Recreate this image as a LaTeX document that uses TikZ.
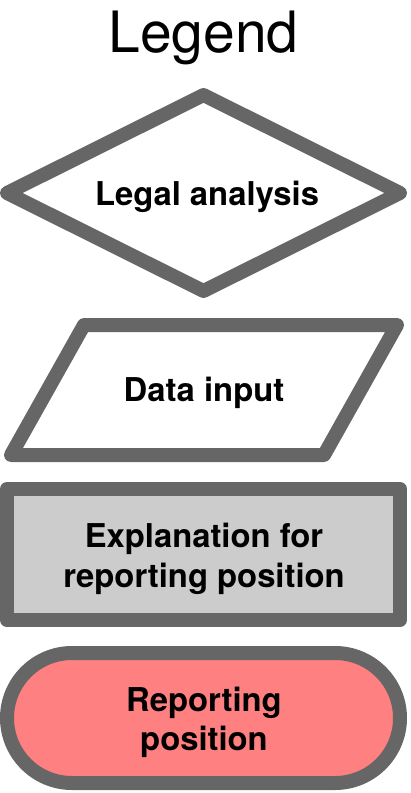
\documentclass[tikz,border=0pt]{standalone}
\usepackage{fontspec}
\setmainfont{TeX Gyre Heros}
\begin{document}
\begin{tikzpicture}[x=1pt,y=-1pt,
  shapeline/.style={draw=edgegray, line width=14pt, line join=round},
  lbl/.style={font=\fontsize{32.8}{40}\selectfont\bfseries, align=center, inner sep=0pt},
]
\definecolor{edgegray}{HTML}{666666}
\definecolor{boxgray}{HTML}{CCCCCC}
\definecolor{salmon}{HTML}{FF8080}
\useasboundingbox (0,0) rectangle (411,793);
% title
\node[font=\fontsize{57}{68}\selectfont, anchor=base, inner sep=0pt] (title) at (203.5,52) {Legend};
% diamond: legal analysis
\coordinate (dl) at (7,193);
\coordinate (dt) at (203.5,95);
\coordinate (dr) at (400,193);
\coordinate (db) at (203.5,291);
\draw[shapeline, fill=white] (dl) -- (dt) -- (dr) -- (db) -- cycle;
\node[lbl, anchor=base] (legal) at (207,205) {Legal analysis};
% parallelogram: data input
\coordinate (pbl) at (11,455);
\coordinate (ptl) at (84,325);
\coordinate (ptr) at (397,325);
\coordinate (pbr) at (324,455);
\draw[shapeline, fill=white] (pbl) -- (ptl) -- (ptr) -- (pbr) -- cycle;
\node[lbl, anchor=base] (data) at (204,401) {Data input};
% rectangle: explanation
\node[shapeline, fill=boxgray, rectangle, minimum width=393pt, minimum height=131pt] (expl) at (203.5,554.5) {};
\node[lbl] (explt) at (204,558.5) {Explanation for\\reporting position};
% stadium: reporting position
\node[shapeline, fill=salmon, rectangle, rounded corners=65pt, minimum width=393pt, minimum height=130pt] (rep) at (203.5,718) {};
\node[lbl, font=\fontsize{32.8}{39}\selectfont\bfseries] (rept) at (204,722) {Reporting\\position};
\end{tikzpicture}
\end{document}
